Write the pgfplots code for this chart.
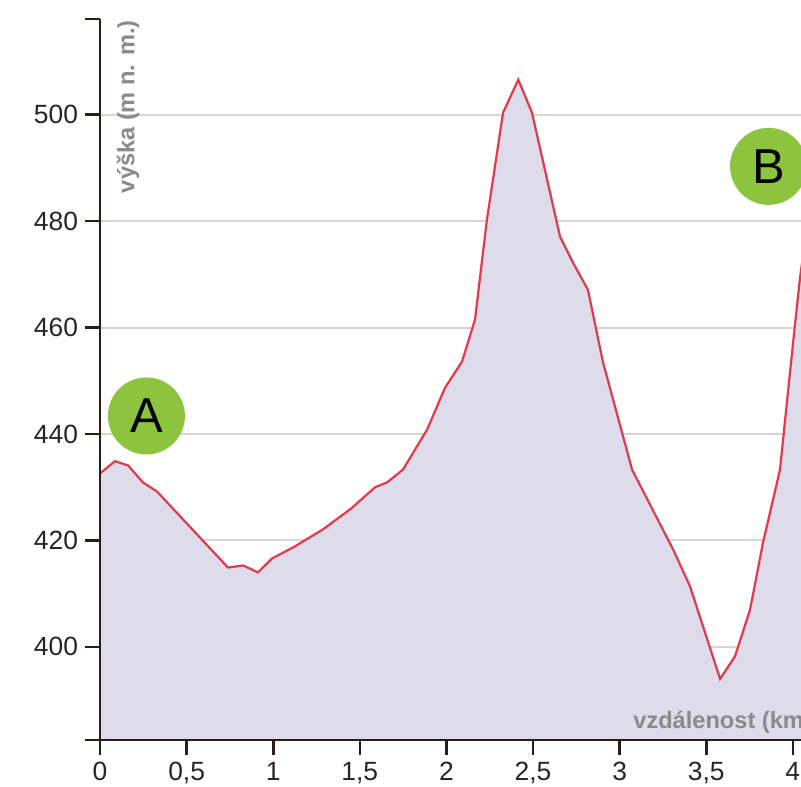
\documentclass[border=0pt]{standalone}
\usepackage{fontspec}
\setmainfont{Liberation Sans}
\usepackage{pgfplots}
\pgfplotsset{compat=1.18}
\usetikzlibrary{calc}

\definecolor{axiscol}{HTML}{2B1D16}
\definecolor{gridcol}{HTML}{D9D4CF}
\definecolor{fillcol}{HTML}{DEDBEA}
\definecolor{linecol}{HTML}{E03A4C}
\definecolor{labcol}{HTML}{8A8A8A}
\definecolor{dotcol}{HTML}{8CC43E}

\pgfplotstableread{
km   h
0.000 432.6
0.087 434.9
0.162 434.1
0.248 430.9
0.329 429.2
0.739 414.9
0.826 415.3
0.912 414.0
0.993 416.6
1.126 418.9
1.288 422.1
1.450 426.0
1.588 430.0
1.657 430.9
1.749 433.3
1.888 440.8
1.992 448.7
2.090 453.6
2.165 461.5
2.234 480.3
2.327 500.4
2.415 506.6
2.494 500.4
2.656 477.1
2.731 472.2
2.817 467.1
2.904 453.5
3.072 433.3
3.309 418.3
3.406 411.4
3.580 394.0
3.666 398.2
3.753 407.0
3.828 419.6
3.926 433.3
4.001 457.0
4.042 469.5
4.070 476.0
}\profile

\begin{document}
\begin{tikzpicture}
\begin{axis}[
  scale only axis,
  width=350.5bp, height=360.5bp,
  xmin=0, xmax=4.0473,
  ymin=382.5, ymax=518,
  axis lines*=left,
  axis line style={axiscol, line width=1.3bp},
  tick style={axiscol, line width=1.3bp},
  major tick length=7.5bp,
  tick align=outside,
  xtick={0,0.5,...,4},
  ytick={400,420,...,500},
  extra y ticks={382.5,518},
  extra y tick labels={},
  extra y tick style={grid=none},
  ymajorgrids,
  major grid style={gridcol, line width=1bp},
  /pgf/number format/assume math mode=true,
  /pgf/number format/use comma,
  ticklabel style={font=\fontsize{13.2bp}{15bp}\selectfont, text=black!85},
  clip=true,
]
\addplot[fill=fillcol, draw=none] table[x=km, y=h] {\profile} \closedcycle;
\addplot[linecol, line width=1.1bp] table[x=km, y=h] {\profile};

\coordinate (sw) at (rel axis cs:0,0);
\coordinate (ne) at (rel axis cs:1,1);

\node[circle, fill=dotcol, minimum size=38.5bp, inner sep=0,
      font=\fontsize{24.5bp}{26bp}\selectfont] at (axis cs:0.268,443.4) {A};
\node[circle, fill=dotcol, minimum size=38.5bp, inner sep=0,
      font=\fontsize{24.5bp}{26bp}\selectfont] at (axis cs:3.860,490.3) {B};

\node[rotate=90, anchor=east, inner sep=0, text=labcol,
      font=\fontsize{11.8bp}{13bp}\selectfont\bfseries]
      at ($(rel axis cs:0,1)+(14bp,-0.5bp)$) {výška (m n. m.)};
\node[anchor=base west, inner sep=0, text=labcol,
      font=\fontsize{11.8bp}{13bp}\selectfont\bfseries]
      at ($(rel axis cs:0,0)+(266.5bp,6bp)$) {vzdálenost (km)};
\end{axis}
\draw[axiscol, line width=1.3bp] (ne -| sw) -- (sw) -- (sw -| ne);
\pgfresetboundingbox
\path[use as bounding box] ($(sw)+(-50bp,-23.5bp)$) rectangle ($(ne)+(0,9.5bp)$);
\end{tikzpicture}
\end{document}
